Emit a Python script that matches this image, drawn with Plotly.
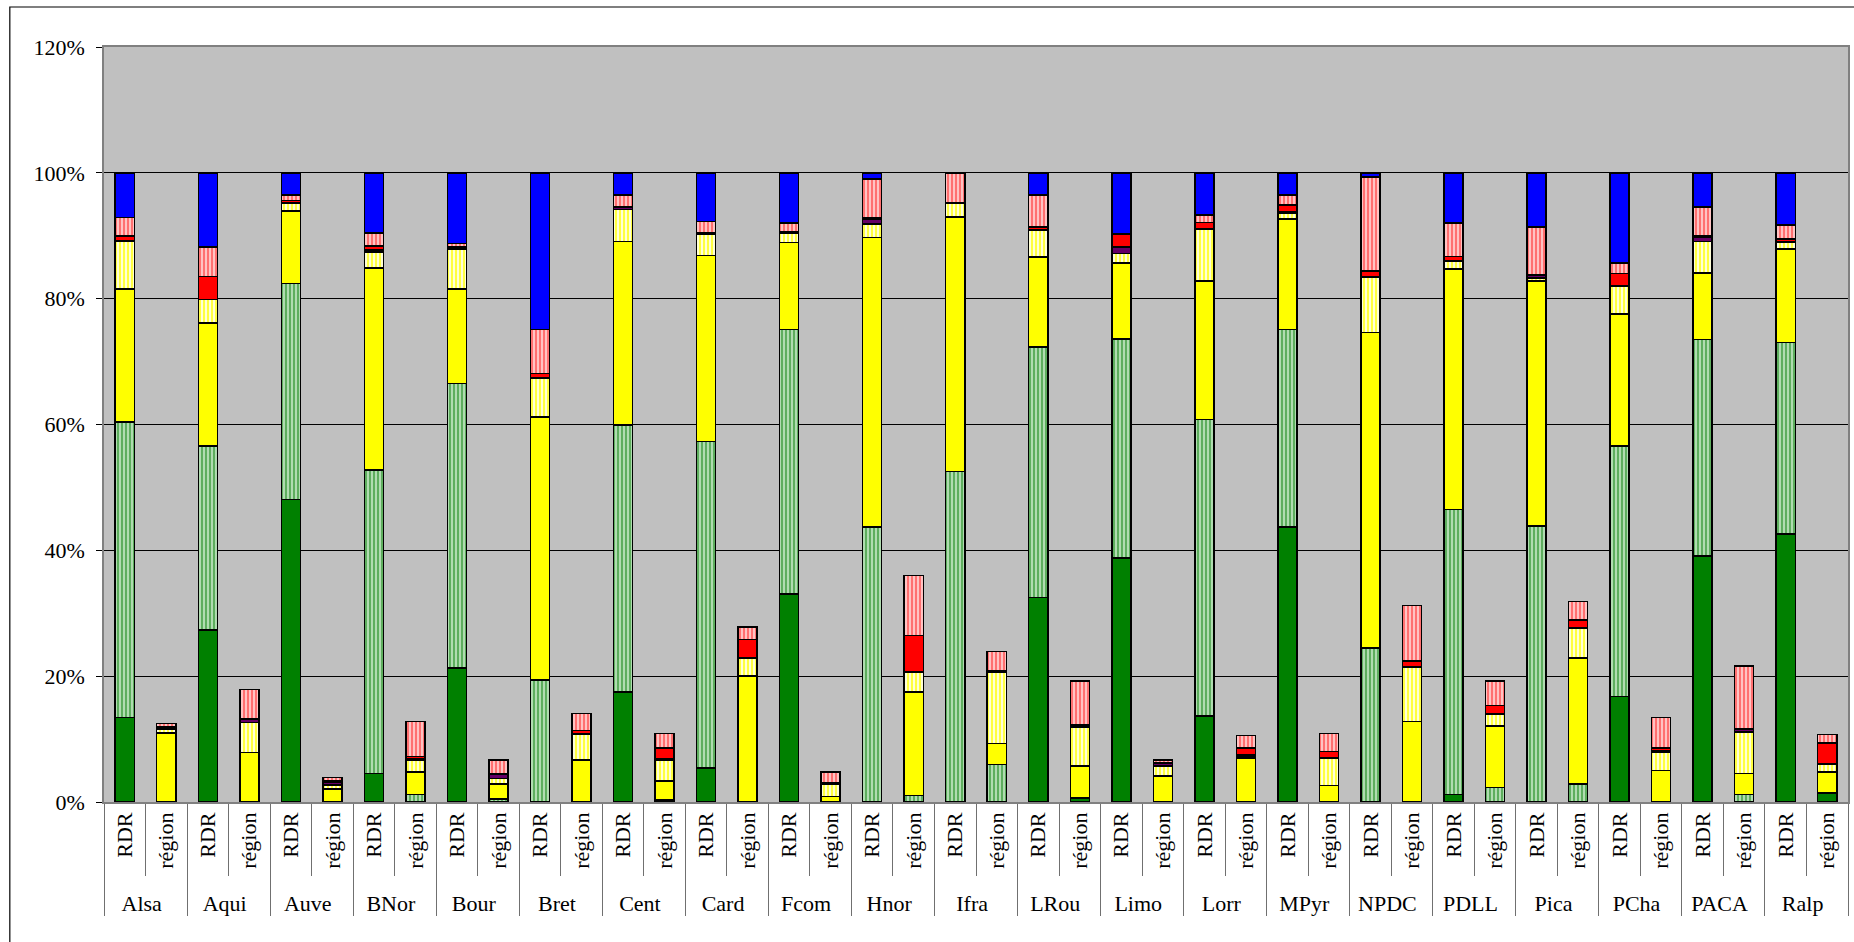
import plotly.graph_objects as go

# region codes, each one shown twice (RDR, région)
regions = ["Alsa", "Aqui", "Auve", "BNor", "Bour", "Bret", "Cent", "Card", "Fcom", "Hnor", "Ifra",
           "LRou", "Limo", "Lorr", "MPyr", "NPDC", "PDLL", "Pica", "PCha", "PACA", "Ralp"]
sub_labels = ["RDR", "région"]

# shares in % -- RDR bars
dark_green_rdr = [13.4, 27.3, 48.1, 4.5, 21.3, 0, 17.5, 5.4, 33.1, 0, 0, 32.5, 38.8, 13.7, 43.7, 0, 1.2, 0, 16.8, 39.1, 42.6]
light_green_rdr = [47.0, 29.3, 34.3, 48.3, 45.2, 19.4, 42.4, 51.9, 42.0, 43.7, 52.5, 39.8, 34.8, 47.1, 31.4, 24.5, 45.3, 43.9, 39.8, 34.4, 30.4]
yellow_rdr = [21.1, 19.5, 11.5, 32.1, 15.0, 41.8, 29.2, 29.6, 13.8, 46.0, 40.5, 14.3, 12.1, 22.0, 17.6, 50.1, 38.2, 38.9, 21.0, 10.6, 14.9]
light_yellow_rdr = [7.6, 3.8, 1.2, 2.5, 6.4, 6.1, 5.1, 3.3, 1.5, 2.2, 2.1, 4.2, 1.5, 8.2, 0.9, 8.8, 1.2, 0.5, 4.3, 5.0, 1.0]
purple_rdr = [0.1, 0, 0.1, 0.3, 0.2, 0.1, 0.3, 0.1, 0.1, 0.8, 0.1, 0.1, 1.0, 0.1, 0.2, 0.1, 0.1, 0.4, 0.1, 0.6, 0.1]
red_rdr = [0.8, 3.6, 0.4, 0.7, 0.1, 0.7, 0.1, 0.1, 0.2, 0.2, 0.1, 0.5, 2.0, 1.0, 1.1, 0.9, 0.7, 0.1, 2.0, 0.3, 0.5]
pink_rdr = [2.9, 4.7, 0.9, 2.0, 0.6, 7.0, 1.9, 1.9, 1.3, 6.1, 4.7, 5.1, 0.1, 1.2, 1.6, 14.9, 5.3, 7.6, 1.7, 4.6, 2.2]
blue_rdr = [7.1, 11.8, 3.5, 9.6, 11.2, 24.9, 3.5, 7.7, 8.0, 1.0, 0, 3.5, 9.7, 6.7, 3.5, 0.7, 8.0, 8.6, 14.3, 5.4, 8.3]

# shares in % -- région bars
dark_green_reg = [0, 0, 0, 0, 0, 0, 0.3, 0, 0, 0, 0, 0.6, 0, 0, 0, 0, 0, 0, 0, 0, 1.4]
light_green_reg = [0, 0, 0, 1.2, 0.5, 0, 0, 0, 0, 1.0, 6.0, 0, 0, 0, 0, 0, 2.3, 2.9, 0, 1.2, 0]
yellow_reg = [11.0, 7.9, 2.1, 3.6, 2.4, 6.7, 3.0, 20.0, 0.9, 16.5, 3.3, 5.1, 4.1, 7.0, 2.6, 12.8, 9.8, 20.0, 5.0, 3.3, 3.4]
light_yellow_reg = [0.6, 4.7, 0.6, 1.9, 0.8, 4.0, 3.4, 2.9, 2.0, 3.1, 11.3, 6.2, 1.6, 0.3, 4.4, 8.6, 1.9, 4.7, 2.9, 6.6, 1.2]
purple_reg = [0.2, 0.5, 0.4, 0.1, 0.7, 0.1, 0.2, 0.1, 0.1, 0.1, 0.1, 0.3, 0.4, 0.2, 0.1, 0.1, 0.1, 0.1, 0.2, 0.4, 0.1]
red_reg = [0.2, 0.1, 0.2, 0.4, 0.1, 0.6, 1.7, 2.8, 0.1, 5.8, 0.1, 0.1, 0.1, 1.1, 0.9, 0.9, 1.2, 1.2, 0.5, 0.1, 3.3]
pink_reg = [0.5, 4.7, 0.6, 5.6, 2.2, 2.7, 2.3, 2.0, 1.7, 9.5, 3.1, 6.9, 0.5, 2.0, 2.9, 8.8, 3.9, 3.0, 4.8, 10.0, 1.3]
blue_reg = [0] * 21

y_ticks = [0, 20, 40, 60, 80, 100, 120]
y_tick_labels = ["0%", "20%", "40%", "60%", "80%", "100%", "120%"]


def interleave(rdr, reg):
    out = []
    for a, b in zip(rdr, reg):
        out += [a, b]
    return out


outer = [r for r in regions for _ in sub_labels]
inner = sub_labels * len(regions)

# (rdr values, région values, fill colour, pattern)
series = [
    (dark_green_rdr, dark_green_reg, "#008000", None),
    (light_green_rdr, light_green_reg, "#a8d8a8",
     dict(shape="|", bgcolor="#b0dcb0", fgcolor="#3a9a3a", size=4, solidity=0.35, fillmode="replace")),
    (yellow_rdr, yellow_reg, "#ffff00", None),
    (light_yellow_rdr, light_yellow_reg, "#ffff80",
     dict(shape="|", bgcolor="#ffff40", fgcolor="#ffffe8", size=4, solidity=0.45, fillmode="replace")),
    (purple_rdr, purple_reg, "#660066", None),
    (red_rdr, red_reg, "#ff0000", None),
    (pink_rdr, pink_reg, "#ff8080",
     dict(shape="|", bgcolor="#ff7070", fgcolor="#ffd8d8", size=4, solidity=0.4, fillmode="replace")),
    (blue_rdr, blue_reg, "#0000ff", None),
]

fig = go.Figure()
for rdr, reg, col, pat in series:
    marker = dict(color=col, line=dict(color="black", width=1.5))
    if pat:
        marker["pattern"] = pat
    fig.add_trace(go.Bar(x=[outer, inner], y=interleave(rdr, reg), marker=marker,
                         showlegend=False))

label_font = dict(family="Liberation Serif", size=22, color="black")

fig.update_layout(
    barmode="stack",
    bargap=0.54,
    width=1854, height=942,
    margin=dict(l=104, r=4, t=47, b=140),
    plot_bgcolor="#c0c0c0",
    paper_bgcolor="white",
    font=label_font,
    # chart-area frame (right and bottom edges fall outside the page)
    shapes=[dict(type="rect", xref="paper", yref="paper", x0=-0.054, x1=1.05, y0=-0.3, y1=1.053,
                 line=dict(color="black", width=1.2), layer="below")],
)
fig.update_yaxes(range=[0, 120], tickvals=y_ticks, ticktext=y_tick_labels, showgrid=True,
                 gridcolor="black", gridwidth=1, ticks="outside", ticklen=6, tickcolor="black",
                 tickfont=label_font, ticklabelstandoff=7,
                 showline=True, linecolor="#808080", linewidth=1.5, mirror=True, zeroline=False)
fig.update_xaxes(type="multicategory", tickangle=-90, ticks="outside", tickson="boundaries",
                 ticklen=72, tickcolor="#707070", showdividers=True, dividercolor="#707070",
                 dividerwidth=1, showline=True, linecolor="#808080", linewidth=1.5, mirror=True,
                 tickfont=label_font)

fig.write_html("out.html", config={"displayModeBar": False},
               post_script="document.body.style.margin='0';")
